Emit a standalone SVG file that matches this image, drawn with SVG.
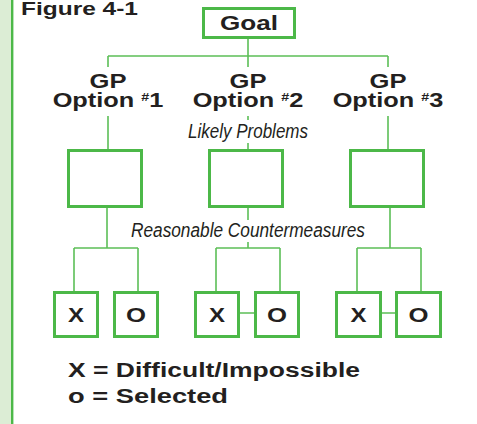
<svg xmlns="http://www.w3.org/2000/svg" width="477" height="424" viewBox="0 0 477 424">
<style>
.bx{fill:#fff;stroke:#4cb848;stroke-width:3}
.ln{fill:none;stroke:#5cbf57;stroke-width:1.6}
.b{font-family:"Liberation Sans",Arial,sans-serif;font-weight:bold;fill:#231f20}
.i{font-family:"Liberation Sans",Arial,sans-serif;font-style:italic;fill:#231f20;font-size:19.5px}
</style>
<rect x="0" y="0" width="477" height="424" fill="#fff"/>
<rect x="0" y="0" width="11" height="424" fill="#dcedd5"/>
<rect x="11" y="0" width="2.4" height="424" fill="#4cb848"/>
<text class="b" x="21" y="14.5" font-size="18" textLength="117" lengthAdjust="spacingAndGlyphs">Figure 4-1</text>

<g id="connectors">
<path class="ln" d="M248 39V56M108 56H388M108 56V67M248 56V67M388 56V67"/>
<path class="ln" d="M108 116V149M248 116V120M248 143V149M388 116V149"/>
<path class="ln" d="M107 208V248M74 248H138M74 248V291M138 248V291"/>
<path class="ln" d="M248 208V220M248 242V248M216 248H280M216 248V291M280 248V291M240 313H254"/>
<path class="ln" d="M390 208V248M357 248H421M357 248V291M421 248V291M382 313H395"/>
</g>

<g id="goal">
<rect class="bx" x="203.5" y="8.5" width="91" height="29"/>
<text class="b" x="249" y="30" font-size="19.5" text-anchor="middle" textLength="58" lengthAdjust="spacingAndGlyphs">Goal</text>
</g>

<g id="opt1-label">
<text class="b" x="108" y="87.5" font-size="19.5" text-anchor="middle" textLength="37" lengthAdjust="spacingAndGlyphs">GP</text>
<text class="b" transform="translate(108 107) scale(1.3 1)" font-size="19.5" text-anchor="middle">Option <tspan font-size="11" dy="-6">#</tspan><tspan dy="6">1</tspan></text>
</g>
<g id="opt2-label">
<text class="b" x="248" y="87.5" font-size="19.5" text-anchor="middle" textLength="37" lengthAdjust="spacingAndGlyphs">GP</text>
<text class="b" transform="translate(248 107) scale(1.3 1)" font-size="19.5" text-anchor="middle">Option <tspan font-size="11" dy="-6">#</tspan><tspan dy="6">2</tspan></text>
</g>
<g id="opt3-label">
<text class="b" x="388" y="87.5" font-size="19.5" text-anchor="middle" textLength="37" lengthAdjust="spacingAndGlyphs">GP</text>
<text class="b" transform="translate(388 107) scale(1.3 1)" font-size="19.5" text-anchor="middle">Option <tspan font-size="11" dy="-6">#</tspan><tspan dy="6">3</tspan></text>
</g>

<text class="i" x="248" y="138" text-anchor="middle" textLength="120" lengthAdjust="spacingAndGlyphs">Likely Problems</text>

<g id="opt1"><rect class="bx" x="68.5" y="150.5" width="73" height="56"/></g>
<g id="opt2"><rect class="bx" x="209.5" y="150.5" width="73" height="56"/></g>
<g id="opt3"><rect class="bx" x="350.5" y="150.5" width="73" height="56"/></g>

<text class="i" x="248" y="237" text-anchor="middle" textLength="234" lengthAdjust="spacingAndGlyphs">Reasonable Countermeasures</text>

<g id="x1"><rect class="bx" x="54.5" y="292.5" width="43" height="44"/><text class="b" x="76" y="322" font-size="20" text-anchor="middle" textLength="16" lengthAdjust="spacingAndGlyphs">X</text></g>
<g id="o1"><rect class="bx" x="114.5" y="292.5" width="43" height="44"/><text class="b" x="136" y="322" font-size="20" text-anchor="middle" textLength="20" lengthAdjust="spacingAndGlyphs">O</text></g>
<g id="x2"><rect class="bx" x="195.5" y="292.5" width="43" height="44"/><text class="b" x="217" y="322" font-size="20" text-anchor="middle" textLength="16" lengthAdjust="spacingAndGlyphs">X</text></g>
<g id="o2"><rect class="bx" x="255.5" y="292.5" width="43" height="44"/><text class="b" x="277" y="322" font-size="20" text-anchor="middle" textLength="20" lengthAdjust="spacingAndGlyphs">O</text></g>
<g id="x3"><rect class="bx" x="336.5" y="292.5" width="44" height="44"/><text class="b" x="358.5" y="322" font-size="20" text-anchor="middle" textLength="16" lengthAdjust="spacingAndGlyphs">X</text></g>
<g id="o3"><rect class="bx" x="396.5" y="292.5" width="44" height="44"/><text class="b" x="418.5" y="322" font-size="20" text-anchor="middle" textLength="20" lengthAdjust="spacingAndGlyphs">O</text></g>

<g id="legend">
<text class="b" x="68" y="377" font-size="20" textLength="292" lengthAdjust="spacingAndGlyphs">X = Difficult/Impossible</text>
<text class="b" x="68" y="403" font-size="20" textLength="160" lengthAdjust="spacingAndGlyphs">o = Selected</text>
</g>
</svg>
